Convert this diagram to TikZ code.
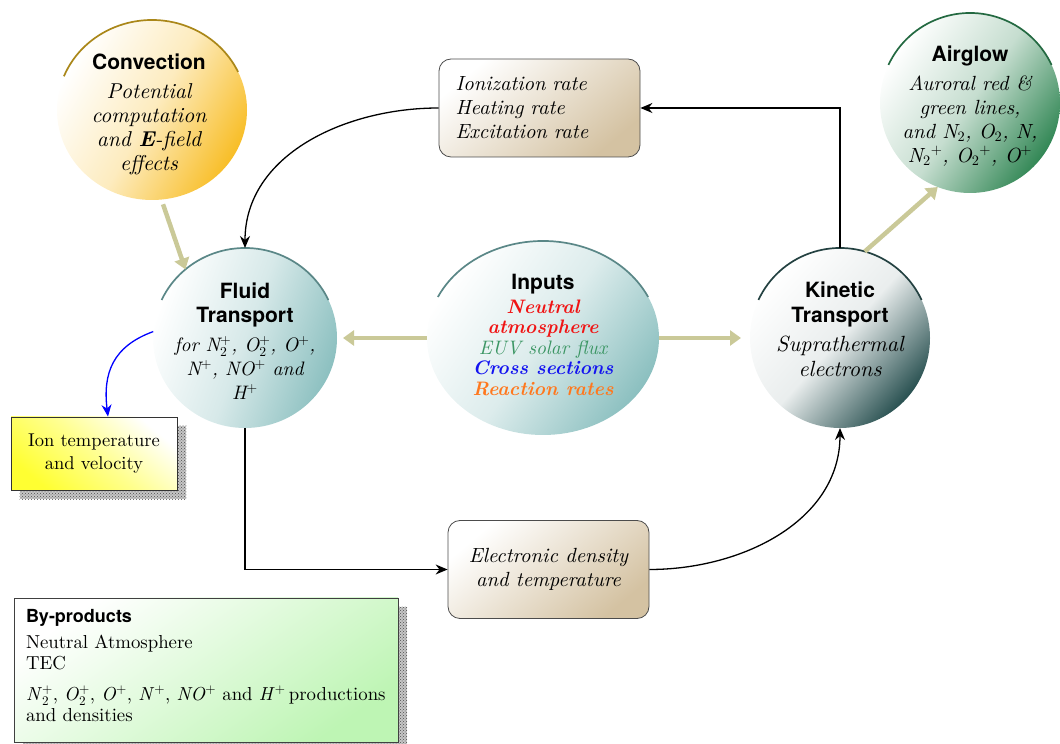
\documentclass[tikz,border=0pt]{standalone}
\usepackage{fontspec}
\setmainfont{lmroman10}[Extension=.otf, UprightFont=*-regular, ItalicFont=*-italic, BoldFont=*-bold, BoldItalicFont=*-bolditalic]
\newfontfamily\hv{TeX Gyre Heros}
\DeclareFontShape{OML}{cmm}{m}{it}{<->cmmi10}{}
\DeclareFontShape{OMS}{cmsy}{m}{n}{<->cmsy10}{}
\DeclareFontShape{OT1}{cmr}{m}{n}{<->cmr10}{}
\usetikzlibrary{shapes.geometric,arrows.meta,patterns,backgrounds,calc}
\definecolor{khaki}{RGB}{202,201,152}
\definecolor{convc}{RGB}{248,190,40}
\definecolor{convd}{RGB}{170,135,25}
\definecolor{airc}{RGB}{50,135,85}
\definecolor{aird}{RGB}{35,105,65}
\definecolor{fluidc}{RGB}{140,192,192}
\definecolor{fluidd}{RGB}{90,135,135}
\definecolor{kinc}{RGB}{40,80,80}
\definecolor{kind}{RGB}{35,65,65}
\definecolor{tanc}{RGB}{212,194,162}
\definecolor{ionc}{RGB}{255,255,50}
\definecolor{byc}{RGB}{190,245,180}
\definecolor{inred}{RGB}{240,20,20}
\definecolor{ingreen}{RGB}{60,150,100}
\definecolor{inblue}{RGB}{20,20,240}
\definecolor{inorange}{RGB}{255,120,30}
\newcommand\bubtitle[1]{{\hv\bfseries\upshape\fontsize{21}{25}\selectfont #1}}
\begin{document}
\begin{tikzpicture}[x=1pt,y=1pt,
  bubble/.style={ellipse, inner sep=0pt, outer sep=0pt},
  btext/.style={align=center, inner sep=0pt, font=\fontsize{20.5}{24}\selectfont\itshape},
  topline/.style={line width=1.7pt},
  ratebox/.style={rectangle, rounded corners=12pt, draw=gray!60!black, line width=0.8pt,
     top color=white, bottom color=tanc, shading angle=40,
     minimum width=201pt, minimum height=98pt, inner sep=0pt,
     font=\fontsize{20.5}{24}\selectfont\itshape},
  conn/.style={line width=1.3pt, -{Stealth[length=12pt,width=10pt]}},
  kh/.style={draw=khaki, line width=4.5pt, -{Triangle[width=15pt,length=11pt]}},
  shadowpat/.style={fill=gray!45, postaction={pattern=crosshatch dots, pattern color=gray!60!black}}]
\useasboundingbox (0,0) rectangle (1060,744);

% ---- bubbles
\node[bubble, minimum width=190pt, minimum height=180pt,
  top color=white, bottom color=convc, middle color=convc!30, shading angle=60] (conv) at (152,634) {};
\draw[topline, convd] ([shift={(158:95pt and 90pt)}]conv.center) arc[start angle=158,end angle=25,x radius=95pt,y radius=90pt];
\node[btext, font=\fontsize{21.5}{24}\selectfont\itshape] (convtxt) at (149,630) {\bubtitle{Convection}\\[5pt] Potential\\ computation\\ and \textbf{E}-field\\ effects};

\node[bubble, minimum width=180pt, minimum height=180pt,
  top color=white, bottom color=airc, middle color=airc!28, shading angle=55] (air) at (970,641) {};
\draw[topline, aird] ([shift={(155:90pt and 90pt)}]air.center) arc[start angle=155,end angle=25,x radius=90pt,y radius=90pt];
\node[btext] (airtxt) at (970,638) {\bubtitle{Airglow}\\[5pt] Auroral red \&\\ green lines,\\ and N$_2$, O$_2$, N,\\ N$_2{}^+$, O$_2{}^+$, O$^+$};

\node[bubble, minimum width=184pt, minimum height=180pt,
  top color=white, bottom color=fluidc, middle color=fluidc!35, shading angle=70] (fluid) at (245,406) {};
\draw[topline, fluidd] ([shift={(155:92pt and 90pt)}]fluid.center) arc[start angle=155,end angle=25,x radius=92pt,y radius=90pt];
\node[btext, font=\fontsize{19.5}{24}\selectfont\itshape] (fluidtxt) at (245,403) {\bubtitle{Fluid}\\ \bubtitle{Transport}\\[5pt] for N$_2^+$, O$_2^+$, O$^+$,\\ N$^+$, NO$^+$ and\\ H$^+$};

\node[bubble, minimum width=232pt, minimum height=194pt,
  top color=white, bottom color=fluidc, middle color=fluidc!30, shading angle=55] (inputs) at (543,406) {};
\draw[topline, fluidd] ([shift={(155:116pt and 97pt)}]inputs.center) arc[start angle=155,end angle=25,x radius=116pt,y radius=97pt];
\node[align=center, inner sep=0pt, font=\fontsize{19.5}{20.5}\selectfont\itshape] (inputstxt) at (543,409)
 {\bubtitle{Inputs}\\[3pt]
  \textcolor{inred}{\bfseries Neutral}\\
  \textcolor{inred}{\bfseries atmosphere}\\
  \textcolor{ingreen}{EUV solar flux}\\
  \textcolor{inblue}{\bfseries Cross sections}\\
  \textcolor{inorange}{\bfseries Reaction rates}};

\node[bubble, minimum width=180pt, minimum height=180pt,
  top color=white, bottom color=kinc, middle color=kinc!10, shading angle=48] (kin) at (840,406) {};
\draw[topline, kind] ([shift={(155:90pt and 90pt)}]kin.center) arc[start angle=155,end angle=25,x radius=90pt,y radius=90pt];
\node[btext, font=\fontsize{22}{25}\selectfont\itshape] (kintxt) at (840,415) {\bubtitle{Kinetic}\\ \bubtitle{Transport}\\[4pt] Suprathermal\\ electrons};

% ---- boxes
\node[ratebox, text width=168pt, align=left] (rates) at (539.5,636) {Ionization rate\\ Heating rate\\ Excitation rate};
\node[ratebox, align=center] (elec) at (548.5,174.5) {Electronic density\\ and temperature};

\node[rectangle, draw=black!80, line width=0.8pt, top color=white, bottom color=ionc, middle color=ionc!55, shading angle=-40,
  minimum width=166pt, minimum height=73pt, inner sep=0pt, align=center,
  font=\fontsize{18.5}{22.5}\selectfont] (ion) at (94,290.5) {Ion temperature\\ and velocity};

\node[rectangle, draw=black!75, line width=0.8pt, top color=white, bottom color=byc, shading angle=35,
  minimum width=384pt, minimum height=144pt, inner sep=0pt] (byprod) at (206,74) {};
\node[inner sep=0pt, text width=362pt, align=left, font=\fontsize{18.8}{21.5}\selectfont] (byprodtxt) at (207,78)
  {{\hv\bfseries\fontsize{18}{22}\selectfont By-products}\\[4pt]
   Neutral Atmosphere\\ TEC\\[9pt]
   \textit{N}$_2^+$, \textit{O}$_2^+$, \textit{O}$^+$, \textit{N}$^+$, \textit{NO}$^+$ and \textit{H}$^+$\,productions\\ and densities};

\begin{pgfonlayer}{background}
\path[shadowpat] ([shift={(9pt,-9pt)}]ion.south west) rectangle ([shift={(9pt,-9pt)}]ion.north east);
\path[shadowpat] ([shift={(9pt,-9pt)}]byprod.south west) rectangle ([shift={(9pt,-9pt)}]byprod.north east);
\end{pgfonlayer}

% ---- khaki arrows
\draw[kh, shorten <=5pt] (conv.276) -- (fluid.131);
\draw[kh, shorten >=6pt] (inputs.west) -- (fluid.east);
\draw[kh, shorten >=9pt] (inputs.east) -- (kin.west);
\draw[kh] (kin.74) -- (air.249);

% ---- black connectors
\draw[conn] (kin.north) |- (rates.east);
\draw[conn] (rates.west) to[out=180,in=90] (fluid.north);
\draw[conn] (fluid.south) |- (elec.west);
\draw[conn] (elec.east) to[out=0,in=-90] (kin.south);
\draw[conn, blue] (fluid.176) to[out=200,in=97,looseness=1.15] ([xshift=14pt]ion.north);
\end{tikzpicture}
\end{document}
